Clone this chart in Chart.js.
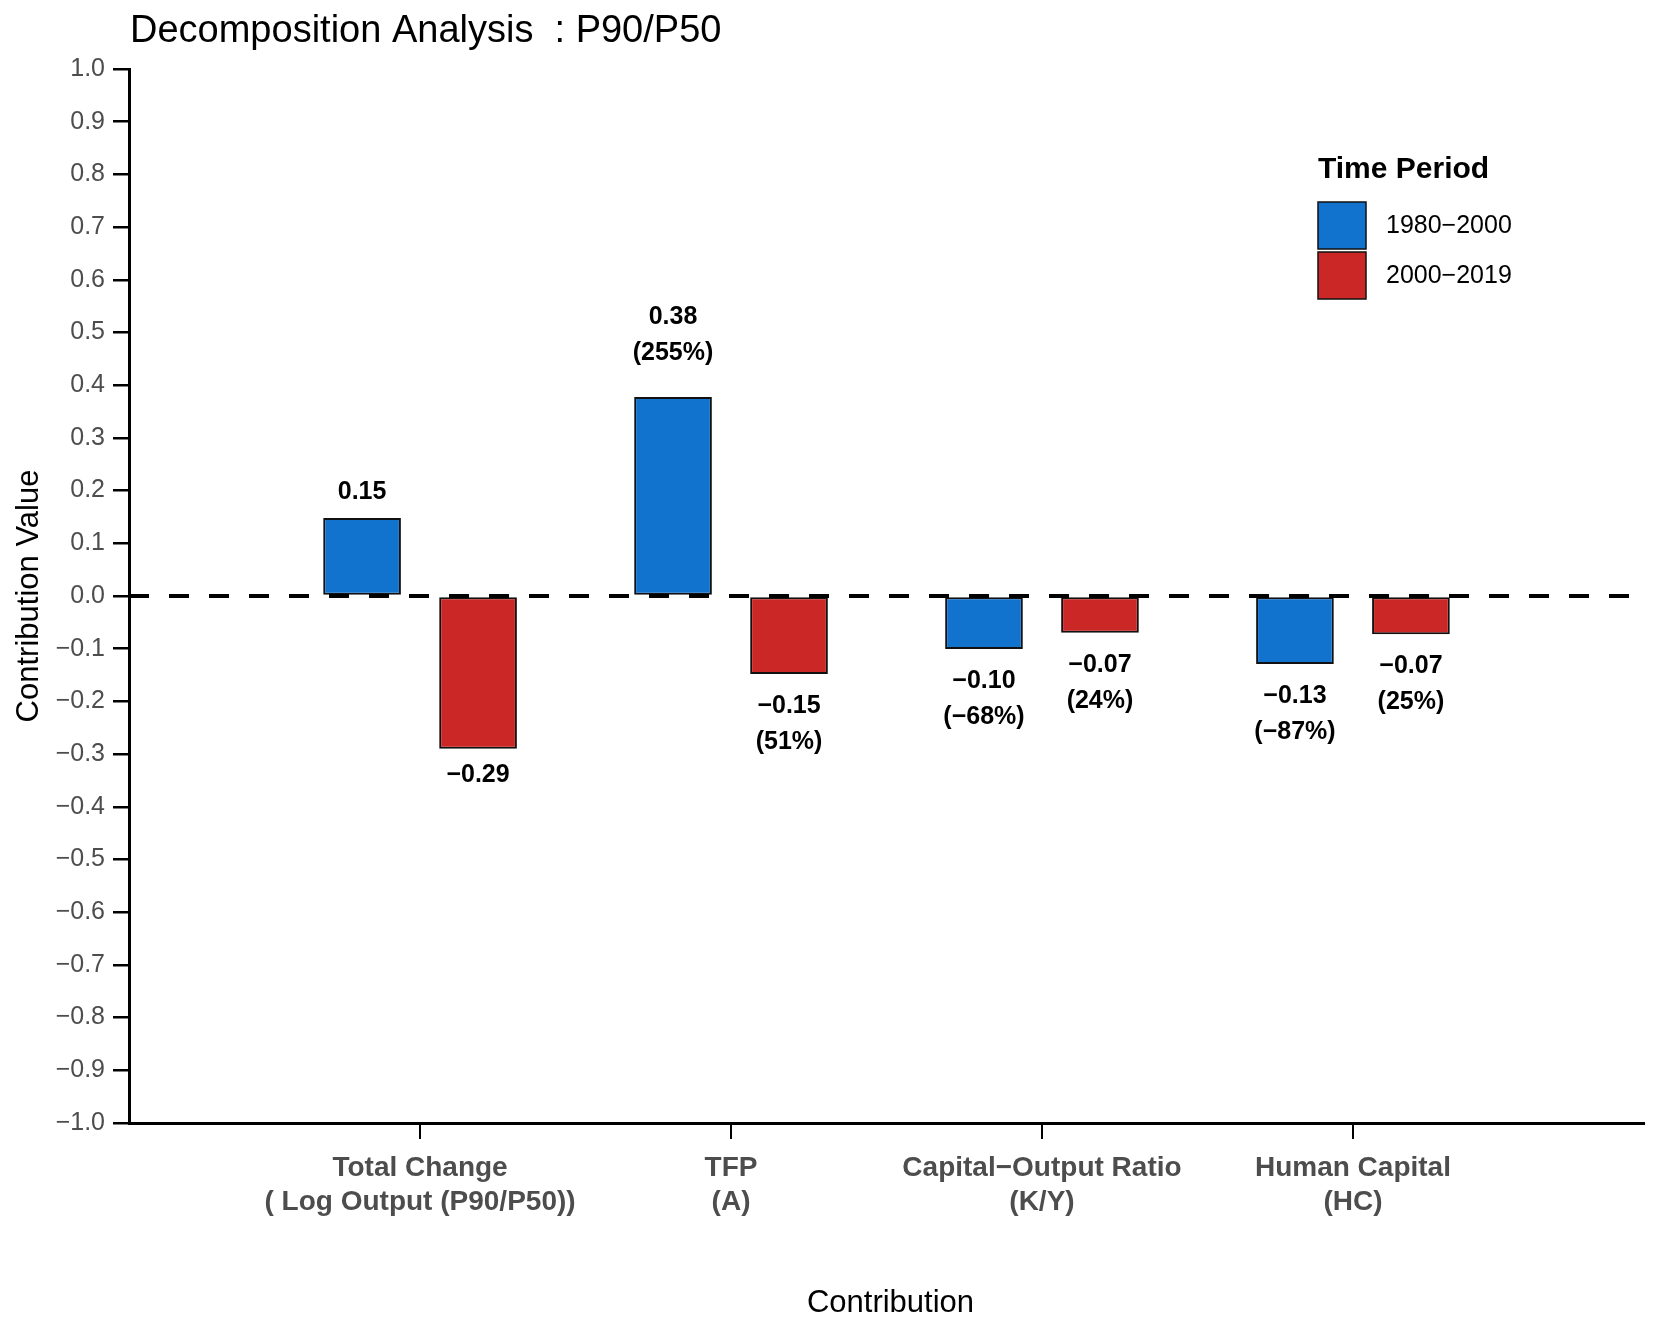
<!DOCTYPE html>
<html>
<head>
<meta charset="utf-8">
<script src="https://cdn.jsdelivr.net/npm/chart.js@4.4.1/dist/chart.umd.min.js"></script>
<style>
  html, body { margin: 0; padding: 0; background: #fff; }
  canvas { display: block; }
</style>
</head>
<body>
<canvas id="chart" width="1661" height="1330"></canvas>
<script>
// data
const categories = [
  ['Total Change', '( Log Output (P90/P50))'],
  ['TFP', '(A)'],
  ['Capital\u2212Output Ratio', '(K/Y)'],
  ['Human Capital', '(HC)']
];
const periods = ['1980\u22122000', '2000\u22122019'];
const values1980 = [0.148, 0.3775, -0.1006, -0.1288];
const values2000 = [-0.290, -0.148, -0.0696, -0.0725];
const colors = ['#1273cf', '#cc2727'];
const yMin = -1, yMax = 1, yStep = 0.1;

const FONT = "'Liberation Sans', Arial, Helvetica, sans-serif";
const minus = v => (v < 0 ? '\u2212' : '') + Math.abs(v);

// label text: value, plus share of the total change (not for the total itself)
function labelLines(vals, i) {
  const v = vals[i];
  const first = (v < 0 ? '\u2212' : '') + Math.abs(v).toFixed(2);
  if (i === 0) return [first];
  const pct = Math.round(v / vals[0] * 100);
  return [first, '(' + minus(pct) + '%)'];
}

const seriesList = [values1980, values2000];

const overlay = {
  id: 'overlay',
  afterDatasetsDraw(chart) {
    const ctx = chart.ctx;
    const { left, right } = chart.chartArea;
    const y0 = chart.scales.y.getPixelForValue(0);

    // dashed zero line
    ctx.save();
    ctx.setLineDash([20, 20]);
    ctx.lineWidth = 4;
    ctx.strokeStyle = '#000';
    ctx.beginPath();
    ctx.moveTo(left, y0);
    ctx.lineTo(right, y0);
    ctx.stroke();
    ctx.restore();

    // value labels
    ctx.save();
    ctx.font = 'bold 25px ' + FONT;
    ctx.fillStyle = '#000';
    ctx.textAlign = 'center';
    ctx.textBaseline = 'middle';
    seriesList.forEach((vals, di) => {
      const meta = chart.getDatasetMeta(di);
      meta.data.forEach((bar, i) => {
        const lines = labelLines(vals, i);
        const n = lines.length;
        if (vals[i] >= 0) {
          const last = bar.y - 26 - 18 * (n - 1);
          lines.forEach((t, k) => ctx.fillText(t, bar.x, last - 36 * (n - 1 - k)));
        } else {
          const first = bar.y + 26 + 6 * (n - 1);
          lines.forEach((t, k) => ctx.fillText(t, bar.x, first + 36 * k));
        }
      });
    });
    ctx.restore();
  },
  afterDraw(chart) {
    const ctx = chart.ctx;
    const { left, right, top, bottom } = chart.chartArea;
    ctx.save();
    ctx.fillStyle = '#000';
    ctx.textBaseline = 'middle';

    // title
    ctx.font = '38px ' + FONT;
    ctx.textAlign = 'left';
    ctx.fillText('Decomposition Analysis  : P90/P50', 130, 32);

    // axis titles
    ctx.font = '31px ' + FONT;
    ctx.textAlign = 'center';
    ctx.fillText('Contribution', (left + right) / 2 + 4, 1303);
    ctx.save();
    ctx.translate(29, (top + bottom) / 2);
    ctx.rotate(-Math.PI / 2);
    ctx.fillText('Contribution Value', 0, 0);
    ctx.restore();

    // legend
    ctx.textAlign = 'left';
    ctx.font = 'bold 30px ' + FONT;
    ctx.fillText('Time Period', 1318, 170);
    ctx.font = '25px ' + FONT;
    periods.forEach((p, i) => {
      const y = 202 + i * 50;
      ctx.fillStyle = colors[i];
      ctx.fillRect(1318, y, 48, 47);
      ctx.lineWidth = 1.5;
      ctx.strokeStyle = '#111';
      ctx.strokeRect(1318, y, 48, 47);
      ctx.fillStyle = '#000';
      ctx.fillText(p, 1386, y + 24);
    });
    ctx.restore();
  }
};

new Chart(document.getElementById('chart'), {
  type: 'bar',
  data: {
    datasets: seriesList.map((vals, di) => ({
      label: periods[di],
      data: vals.map((v, i) => ({ x: i + 1, y: v })),
      backgroundColor: colors[di],
      borderColor: '#111',
      borderWidth: 2,
      borderSkipped: false,
      categoryPercentage: 0.746,
      barPercentage: 0.67
    }))
  },
  options: {
    responsive: false,
    animation: false,
    devicePixelRatio: 1,
    layout: { padding: { left: 0, right: 17, top: 69, bottom: 0 } },
    plugins: {
      legend: { display: false },
      title: { display: false },
      tooltip: { enabled: false }
    },
    scales: {
      x: {
        type: 'linear',
        offset: false,
        min: 0.064,
        max: 4.936,
        afterBuildTicks: s => { s.ticks = categories.map((c, i) => ({ value: i + 1 })); },
        afterFit: s => { s.height = 207; },
        grid: { display: true, offset: false, drawOnChartArea: false, drawTicks: true, tickLength: 16, color: '#000', lineWidth: 2 },
        border: { display: true, color: '#000', width: 3 },
        ticks: {
          autoSkip: false,
          maxRotation: 0,
          padding: 12,
          color: '#4d4d4d',
          font: { family: FONT, size: 28, weight: 'bold', lineHeight: 1.22 },
          callback: v => categories[Math.round(v) - 1] || ''
        }
      },
      y: {
        min: yMin,
        max: yMax,
        afterFit: s => { s.width = 129; },
        grid: { display: true, drawOnChartArea: false, drawTicks: true, tickLength: 16, color: '#000', lineWidth: 2.5 },
        border: { display: true, color: '#000', width: 3 },
        ticks: {
          stepSize: yStep,
          padding: 8,
          color: '#4d4d4d',
          font: { family: FONT, size: 25 },
          callback: v => {
            const r = Math.round(v * 10) / 10;
            return (r < 0 ? '\u2212' : '') + Math.abs(r).toFixed(1);
          }
        }
      }
    }
  },
  plugins: [overlay]
});
</script>
</body>
</html>
